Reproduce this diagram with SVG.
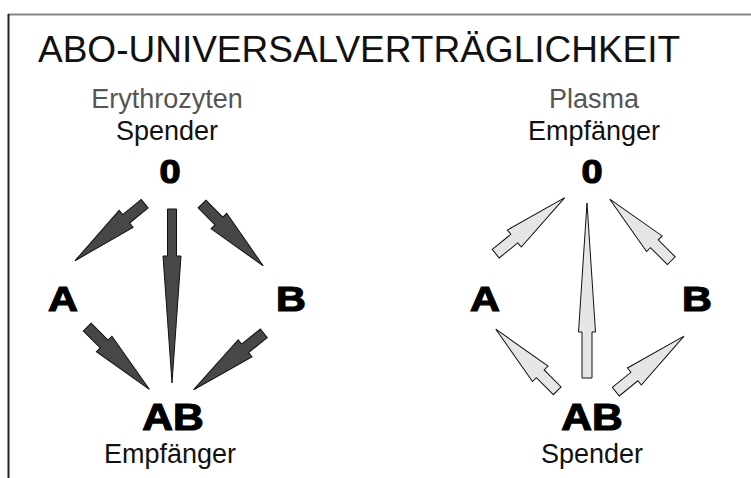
<svg xmlns="http://www.w3.org/2000/svg" width="751" height="478" viewBox="0 0 751 478">
  <style>
    .title { font-family: "Liberation Sans", Arial, sans-serif; font-size: 37px; fill: #111; }
    .sub { font-family: "Liberation Sans", Arial, sans-serif; font-size: 27px; fill: #555; text-anchor: middle; }
    .lbl { font-family: "Liberation Sans", Arial, sans-serif; font-size: 27px; fill: #111; text-anchor: middle; }
    .grp { font-family: "Liberation Sans", Arial, sans-serif; font-weight: bold; fill: #000; text-anchor: middle; stroke: #000; stroke-width: 1.2; }
    .dark { fill: #474747; stroke: #111; stroke-width: 1; stroke-linejoin: miter; }
    .light { fill: #e6e6e6; stroke: #111; stroke-width: 1; stroke-linejoin: miter; }
  </style>

  <!-- frame -->
  <line x1="8" y1="14.5" x2="751" y2="14.5" stroke="#888" stroke-width="2"/>
  <line x1="8.5" y1="14" x2="8.5" y2="478" stroke="#222" stroke-width="2"/>

  <text class="title" x="38" y="62">ABO-UNIVERSALVERTRÄGLICHKEIT</text>

  <!-- left panel: red cells -->
  <g id="left-header">
    <text class="sub" x="167" y="108">Erythrozyten</text>
    <text class="lbl" x="167" y="140">Spender</text>
  </g>
  <g id="left-0"><text class="grp" transform="translate(170 183) scale(1.15 1)" font-size="33">0</text></g>
  <g id="left-A"><text class="grp" transform="translate(63 311) scale(1.15 1)" font-size="36">A</text></g>
  <g id="left-B"><text class="grp" transform="translate(291 311) scale(1.15 1)" font-size="36">B</text></g>
  <g id="left-AB">
    <text class="grp" transform="translate(173 430) scale(1.15 1)" font-size="37">AB</text>
    <text class="lbl" x="170" y="463">Empfänger</text>
  </g>

  <!-- right panel: plasma -->
  <g id="right-header">
    <text class="sub" x="594" y="108">Plasma</text>
    <text class="lbl" x="594" y="140">Empfänger</text>
  </g>
  <g id="right-0"><text class="grp" transform="translate(592 183) scale(1.15 1)" font-size="33">0</text></g>
  <g id="right-A"><text class="grp" transform="translate(485 311) scale(1.15 1)" font-size="36">A</text></g>
  <g id="right-B"><text class="grp" transform="translate(697 311) scale(1.15 1)" font-size="36">B</text></g>
  <g id="right-AB">
    <text class="grp" transform="translate(592 430) scale(1.15 1)" font-size="37">AB</text>
    <text class="lbl" x="592" y="463">Spender</text>
  </g>

  <g id="connectors">
    <!-- erythrocytes: donor 0 to all, A and B to AB -->
    <path class="dark" transform="translate(144.7 203.7) rotate(140.7)" d="M0,-5.5 L24,-5.5 L24,-11 L90,0 L24,11 L24,5.5 L0,5.5 Z"/>
    <path class="dark" transform="translate(202 204) rotate(45.3)" d="M0,-5.5 L24,-5.5 L24,-11 L87,0 L24,11 L24,5.5 L0,5.5 Z"/>
    <path class="dark" transform="translate(87.2 327) rotate(45.1)" d="M0,-5.5 L24,-5.5 L24,-11 L88,0 L24,11 L24,5.5 L0,5.5 Z"/>
    <path class="dark" transform="translate(263.8 333.3) rotate(141.2)" d="M0,-5.5 L24,-5.5 L24,-11 L90,0 L24,11 L24,5.5 L0,5.5 Z"/>
    <path class="dark" d="M167.5,209 L176.5,209 L176.5,256 L181,256 L172,383 L163,256 L167.5,256 Z"/>

    <!-- plasma: AB donates to all, A and B to 0 -->
    <path class="light" transform="translate(495.7 253.7) rotate(-39.1)" d="M0,-5.5 L24,-5.5 L24,-11 L89,0 L24,11 L24,5.5 L0,5.5 Z"/>
    <path class="light" transform="translate(671.3 260.7) rotate(-135)" d="M0,-5.5 L24,-5.5 L24,-11 L87,0 L24,11 L24,5.5 L0,5.5 Z"/>
    <path class="light" transform="translate(557.2 390.8) rotate(-134.9)" d="M0,-5.5 L24,-5.5 L24,-11 L87,0 L24,11 L24,5.5 L0,5.5 Z"/>
    <path class="light" transform="translate(615.8 391.7) rotate(-39.2)" d="M0,-5.5 L24,-5.5 L24,-11 L88,0 L24,11 L24,5.5 L0,5.5 Z"/>
    <path class="light" d="M582,378 L592,378 L592,332 L595.5,332 L587,203 L578.5,332 L582,332 Z"/>
  </g>
</svg>
